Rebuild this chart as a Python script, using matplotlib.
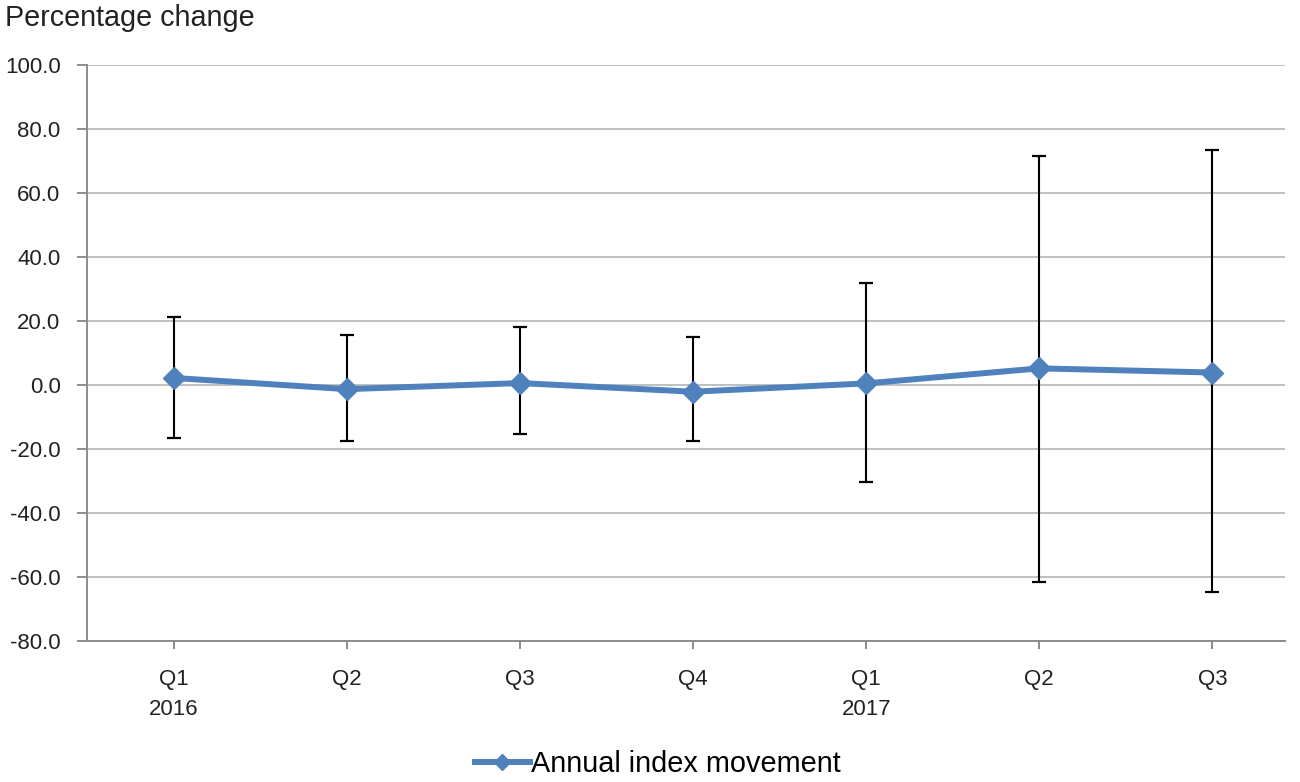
import matplotlib
matplotlib.use("Agg")
import matplotlib.pyplot as plt
from matplotlib.lines import Line2D

categories = ["Q1\n2016", "Q2", "Q3", "Q4", "Q1\n2017", "Q2", "Q3"]
values = [2.2, -1.3, 0.6, -2.1, 0.5, 5.2, 3.9]
upper = [21.3, 15.6, 18.0, 14.9, 31.8, 71.7, 73.4]
lower = [-16.7, -17.4, -15.4, -17.4, -30.4, -61.6, -64.7]
y_ticks = [-80, -60, -40, -20, 0, 20, 40, 60, 80, 100]

plt.rcParams['font.family'] = ['Liberation Sans', 'DejaVu Sans']

fig = plt.figure(figsize=(13, 7.82), dpi=100)
ax = fig.add_axes([87/1300, 1-641/782, (1285-87)/1300, (641-65)/782])

x = list(range(len(categories)))
yerr = [[v - lo for v, lo in zip(values, lower)], [up - v for v, up in zip(values, upper)]]
ax.errorbar(x, values, yerr=yerr, fmt='none', ecolor='black', elinewidth=1.5,
            capsize=5, capthick=1.6, zorder=2)
ax.plot(x, values, color='#4F81BD', lw=4.3, marker='D', markersize=11,
        markerfacecolor='#4F81BD', markeredgecolor='#4F81BD', zorder=3)

ax.set_xlim(-0.503, 6.42)
ax.set_ylim(-80, 100)
ax.set_yticks(y_ticks)
ax.set_yticklabels([f"{t:.1f}" for t in y_ticks], fontsize=16, color='#222222')
ax.set_xticks(x)
ax.set_xticklabels(categories, fontsize=16, color='#222222', linespacing=1.6)

ax.grid(axis='y', color='#C0C0C0', lw=1.4)
ax.set_axisbelow(True)
for s in ['top', 'right']:
    ax.spines[s].set_visible(False)
for s in ['left', 'bottom']:
    ax.spines[s].set_color('#8C8C8C')
    ax.spines[s].set_linewidth(1.4)
ax.tick_params(axis='y', length=7, color='#8C8C8C', width=1.4, pad=12)
ax.tick_params(axis='x', length=6, color='#8C8C8C', width=1.4, pad=14)

fig.text(5/1300, 1-18/782, "Percentage change", fontsize=20.7, va='center', ha='left', color='#222222')

handle = Line2D([], [], color='#4F81BD', lw=4.3, marker='D', markersize=8)
fig.legend([handle], ["Annual index movement"], loc='center', bbox_to_anchor=(658/1300, 1-764/782),
           frameon=False, fontsize=20.8, handlelength=1.9, handletextpad=0.05)

fig.savefig("out.png", dpi=100)
